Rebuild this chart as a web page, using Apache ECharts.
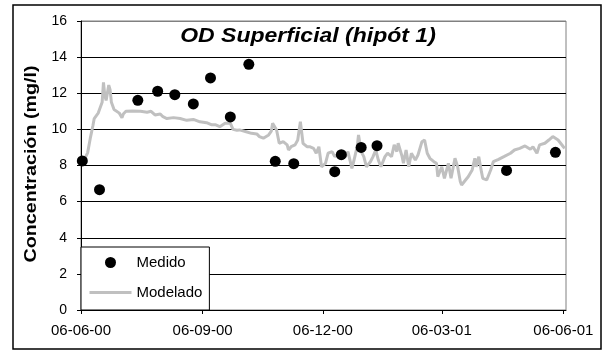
<!DOCTYPE html>
<html>
<head>
<meta charset="utf-8">
<script src="https://cdn.jsdelivr.net/npm/echarts@6/dist/echarts.min.js"></script>
<style>
html,body{margin:0;padding:0;background:#fff;}
#c{width:606px;height:351px;}
</style>
</head>
<body>
<div id="c"></div>
<script>
// ---- data ----
const measDates = ['2000-06-07','2000-06-20','2000-07-19','2000-08-03','2000-08-16','2000-08-30','2000-09-12','2000-09-27','2000-10-11','2000-10-31','2000-11-14','2000-12-15','2000-12-20','2001-01-04','2001-01-16','2001-04-24','2001-05-31'];
const measValues = [8.25,6.66,11.61,12.11,11.92,11.41,12.85,10.69,13.6,8.23,8.1,7.66,8.6,9.0,9.1,7.73,8.73];

const modelDates = [
'2000-06-07','2000-06-09','2000-06-11','2000-06-13','2000-06-15','2000-06-16','2000-06-19','2000-06-20','2000-06-22','2000-06-23','2000-06-24','2000-06-25','2000-06-26','2000-06-27','2000-06-28','2000-06-29',
'2000-07-01','2000-07-02','2000-07-05','2000-07-07','2000-07-08','2000-07-10','2000-07-15','2000-07-21','2000-07-26','2000-07-29',
'2000-08-01','2000-08-05','2000-08-07','2000-08-10','2000-08-15','2000-08-20','2000-08-25','2000-08-30',
'2000-09-04','2000-09-09','2000-09-13','2000-09-16','2000-09-19','2000-09-23','2000-09-27','2000-09-29',
'2000-10-02','2000-10-04','2000-10-09','2000-10-13','2000-10-17','2000-10-19','2000-10-22','2000-10-26','2000-10-28','2000-10-29',
'2000-11-01','2000-11-03','2000-11-06','2000-11-09','2000-11-10','2000-11-12','2000-11-15','2000-11-17','2000-11-19','2000-11-21','2000-11-24','2000-11-26','2000-11-29',
'2000-12-01','2000-12-03','2000-12-05','2000-12-08','2000-12-10','2000-12-13','2000-12-15','2000-12-18','2000-12-20','2000-12-23','2000-12-25','2000-12-28','2000-12-29',
'2001-01-01','2001-01-02','2001-01-04','2001-01-06','2001-01-08','2001-01-11','2001-01-13','2001-01-15','2001-01-17','2001-01-19','2001-01-22','2001-01-24','2001-01-27','2001-01-29','2001-01-31',
'2001-02-01','2001-02-04','2001-02-05','2001-02-07','2001-02-09','2001-02-11','2001-02-14','2001-02-16','2001-02-19','2001-02-21','2001-02-23','2001-02-25','2001-02-28',
'2001-03-02','2001-03-03','2001-03-06','2001-03-08','2001-03-11','2001-03-13','2001-03-16','2001-03-18','2001-03-20','2001-03-21','2001-03-24','2001-03-26','2001-03-29','2001-03-31',
'2001-04-01','2001-04-03','2001-04-05','2001-04-06','2001-04-09','2001-04-12','2001-04-14','2001-04-18','2001-04-22','2001-04-27','2001-04-30',
'2001-05-04','2001-05-08','2001-05-12','2001-05-14','2001-05-17','2001-05-19','2001-05-23','2001-05-26','2001-05-29',
'2001-06-02','2001-06-06','2001-06-07'];
const modelValues = [
8.25,8.4,8.7,9.5,10.2,10.6,10.9,11.1,11.5,12.6,11.9,11.6,11.7,12.45,12.2,11.5,
11.1,11.05,10.9,10.65,10.85,11.0,11.02,11.0,10.95,11.0,
10.8,10.85,10.7,10.6,10.65,10.6,10.5,10.55,
10.42,10.37,10.25,10.25,10.15,10.34,10.35,10.0,
9.95,9.97,9.87,9.78,9.75,9.6,9.51,9.69,9.9,10.34,
9.97,9.23,9.32,9.14,8.86,9.04,9.14,9.41,10.43,9.23,9.04,9.04,8.95,
8.68,9.04,7.93,8.12,8.68,8.77,8.49,8.68,8.58,8.49,8.77,7.84,8.12,
9.04,9.69,8.77,8.49,7.93,8.21,8.49,8.86,8.3,7.93,8.49,8.68,8.49,9.14,8.77,
9.23,8.49,8.12,8.86,7.93,8.68,8.3,8.58,9.32,9.41,8.68,8.4,8.21,
8.12,7.38,7.93,7.29,8.12,7.29,8.4,7.93,7.11,6.92,7.2,7.38,7.75,8.4,
7.93,8.49,7.66,7.29,7.2,7.75,8.21,8.34,8.49,8.68,8.86,
8.95,9.08,8.9,9.04,8.68,9.14,9.23,9.41,9.6,
9.41,9.04,8.95];

const xTickDates = ['2000-06-06','2000-09-06','2000-12-06','2001-03-06','2001-06-06'];
const xRange = ['2000-06-06','2001-06-08'];
const yTicks = {min: 0, max: 16, interval: 2};
const titleText = 'OD Superficial (hipót 1)';
const yAxisTitle = 'Concentración (mg/l)';
const seriesNames = ['Medido', 'Modelado'];

// ---- helpers ----
function ts(s) { const p = s.split('-').map(Number); return new Date(p[0], p[1] - 1, p[2]).getTime(); }
function fmt(v) {
  const d = new Date(v);
  const pad = n => (n < 10 ? '0' : '') + n;
  return pad(d.getDate()) + '-' + pad(d.getMonth() + 1) + '-' + pad(d.getFullYear() % 100);
}
const FONT = "'Liberation Sans', Arial, sans-serif";

const chart = echarts.init(document.getElementById('c'), null, {renderer: 'canvas'});
const gridColors = ['#000','#000','#000','#000','#000','#000','#000','#000','#808080'];

chart.setOption({
  animation: false,
  backgroundColor: '#fff',
  textStyle: {fontFamily: FONT},
  grid: {left: 81, right: 40, top: 21, bottom: 41, show: true, borderColor: '#808080', borderWidth: 1, backgroundColor: '#fff'},
  xAxis: {
    type: 'value',
    min: ts(xRange[0]), max: ts(xRange[1]),
    axisLine: {show: true, onZero: false, lineStyle: {color: '#000', width: 1}},
    axisTick: {show: true, length: 4, lineStyle: {color: '#000'}, customValues: xTickDates.map(ts)},
    axisLabel: {show: true, color: '#000', fontSize: 15, fontFamily: FONT, margin: 13, formatter: fmt, customValues: xTickDates.map(ts)},
    splitLine: {show: false}
  },
  yAxis: {
    type: 'value',
    min: yTicks.min, max: yTicks.max, interval: yTicks.interval,
    axisLine: {show: true, lineStyle: {color: '#000', width: 1}},
    axisTick: {show: true, length: 4, lineStyle: {color: '#000'}},
    axisLabel: {color: '#000', fontSize: 14, fontFamily: FONT, margin: 14},
    splitLine: {show: true, lineStyle: {color: gridColors, width: 1}}
  },
  legend: {
    orient: 'vertical',
    left: 81, top: 247,
    padding: [8, 7, 10, 7],
    itemGap: 15,
    itemWidth: 42, itemHeight: 11,
    itemTextGap: 5,
    backgroundColor: '#fff',
    borderColor: '#000', borderWidth: 1, borderRadius: 0,
    textStyle: {fontSize: 15, color: '#000', fontFamily: FONT},
    data: [
      {name: seriesNames[0], icon: 'circle', itemStyle: {color: '#000', opacity: 1}},
      {name: seriesNames[1], itemStyle: {opacity: 0}, lineStyle: {color: '#c0c0c0', width: 3, opacity: 1}}
    ]
  },
  graphic: [
    {type: 'rect', silent: true, z: 100, shape: {x: 13, y: 5, width: 588, height: 344},
     style: {fill: 'none', stroke: '#000', lineWidth: 1.5}},
    {type: 'text', x: 308, y: 36, scaleX: 1.15, z: 100,
     style: {text: titleText, font: 'italic bold 20px ' + FONT, fill: '#000', textAlign: 'center', textVerticalAlign: 'middle'}},
    {type: 'text', x: 31.5, y: 164, rotation: Math.PI / 2, scaleX: 1.16, z: 100,
     style: {text: yAxisTitle, font: 'bold 17px ' + FONT, fill: '#000', textAlign: 'center', textVerticalAlign: 'middle'}}
  ],
  series: [
    {
      name: seriesNames[1], type: 'line', z: 2,
      showSymbol: false, symbol: 'none',
      lineStyle: {color: '#c0c0c0', width: 3},
      itemStyle: {color: '#c0c0c0'},
      data: modelDates.map((d, i) => [ts(d), modelValues[i]])
    },
    {
      name: seriesNames[0], type: 'scatter', z: 3,
      symbol: 'circle', symbolSize: 11,
      itemStyle: {color: '#000', opacity: 1},
      data: measDates.map((d, i) => [ts(d), measValues[i]])
    }
  ]
});
</script>
</body>
</html>
